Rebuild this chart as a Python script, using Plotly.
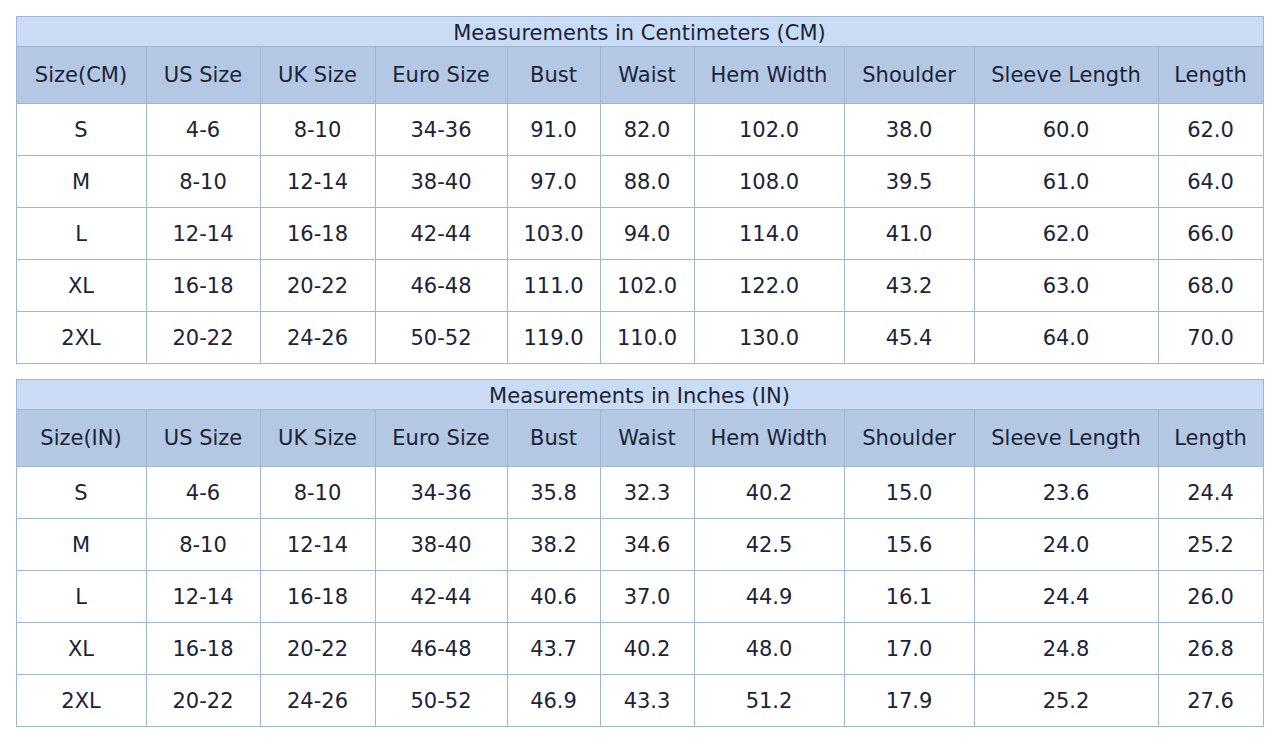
import plotly.graph_objects as go

# column headers (first one differs per table)
headers_rest = ["US Size", "UK Size", "Euro Size", "Bust", "Waist", "Hem Width",
                "Shoulder", "Sleeve Length", "Length"]

sizes = ["S", "M", "L", "XL", "2XL"]
us_size = ["4-6", "8-10", "12-14", "16-18", "20-22"]
uk_size = ["8-10", "12-14", "16-18", "20-22", "24-26"]
euro_size = ["34-36", "38-40", "42-44", "46-48", "50-52"]

# centimeters
bust_cm = [91.0, 97.0, 103.0, 111.0, 119.0]
waist_cm = [82.0, 88.0, 94.0, 102.0, 110.0]
hem_cm = [102.0, 108.0, 114.0, 122.0, 130.0]
shoulder_cm = [38.0, 39.5, 41.0, 43.2, 45.4]
sleeve_cm = [60.0, 61.0, 62.0, 63.0, 64.0]
length_cm = [62.0, 64.0, 66.0, 68.0, 70.0]

# inches
bust_in = [35.8, 38.2, 40.6, 43.7, 46.9]
waist_in = [32.3, 34.6, 37.0, 40.2, 43.3]
hem_in = [40.2, 42.5, 44.9, 48.0, 51.2]
shoulder_in = [15.0, 15.6, 16.1, 17.0, 17.9]
sleeve_in = [23.6, 24.0, 24.4, 24.8, 25.2]
length_in = [24.4, 25.2, 26.0, 26.8, 27.6]

col_widths = [130, 114, 115, 132, 93, 94, 150, 130, 184, 105]

W, H = 1279, 748
OFF = 8  # page body margin
TITLE_BG = "#c9dbf5"
HEAD_BG = "#b4c7e3"
LINE = "#a0b4d4"
TXT = "#1b2338"
CLEAR = "rgba(0,0,0,0)"
FONT = "DejaVu Sans"
FS = 21
TITLE_H, HEAD_H, ROW_H = 30, 57, 52
HEAD_SHIFT, ROW_SHIFT = 12, 10  # push text toward the vertical middle


def fmt(vals):
    return ["%.1f" % v for v in vals]


def ytop(px):
    return 1 - (px - OFF) / H


def add_block(fig, top, title, first_head, nums):
    x0, x1 = (16 - OFF) / W, (1263 - OFF) / W
    font = dict(family=FONT, size=FS, color=TXT)
    heads = [first_head] + headers_rest
    cols = [sizes, us_size, uk_size, euro_size] + [fmt(v) for v in nums]
    blank = [[""] * len(sizes) for _ in cols]

    # title bar
    fig.add_trace(go.Table(
        domain=dict(x=[x0, x1], y=[0, ytop(top)]),
        header=dict(values=[title], fill_color=TITLE_BG, line_color=LINE,
                    height=TITLE_H, align="center", font=font),
        cells=dict(values=[[]], height=1, line_color=LINE),
    ))
    # grid (fills and borders)
    fig.add_trace(go.Table(
        domain=dict(x=[x0, x1], y=[0, ytop(top + TITLE_H)]),
        columnwidth=col_widths,
        header=dict(values=[""] * len(heads), fill_color=HEAD_BG,
                    line_color=LINE, height=HEAD_H, font=font),
        cells=dict(values=blank, fill_color="white", line_color=LINE,
                   height=ROW_H, font=font),
    ))
    # text layer, shifted down so labels sit mid-cell
    fig.add_trace(go.Table(
        domain=dict(x=[x0, x1], y=[0, ytop(top + TITLE_H + HEAD_SHIFT)]),
        columnwidth=col_widths,
        header=dict(values=heads, fill_color=CLEAR, line_width=0,
                    height=HEAD_H - HEAD_SHIFT + ROW_SHIFT, align="center",
                    font=font),
        cells=dict(values=cols, fill_color=CLEAR, line_width=0,
                   height=ROW_H, align="center", font=font),
    ))


fig = go.Figure()
add_block(fig, 16, "Measurements in Centimeters (CM)", "Size(CM)",
          [bust_cm, waist_cm, hem_cm, shoulder_cm, sleeve_cm, length_cm])
add_block(fig, 379, "Measurements in Inches (IN)", "Size(IN)",
          [bust_in, waist_in, hem_in, shoulder_in, sleeve_in, length_in])

fig.update_layout(width=W, height=H, margin=dict(l=0, r=0, t=0, b=0),
                  paper_bgcolor="white")
fig.write_html("out.html")
